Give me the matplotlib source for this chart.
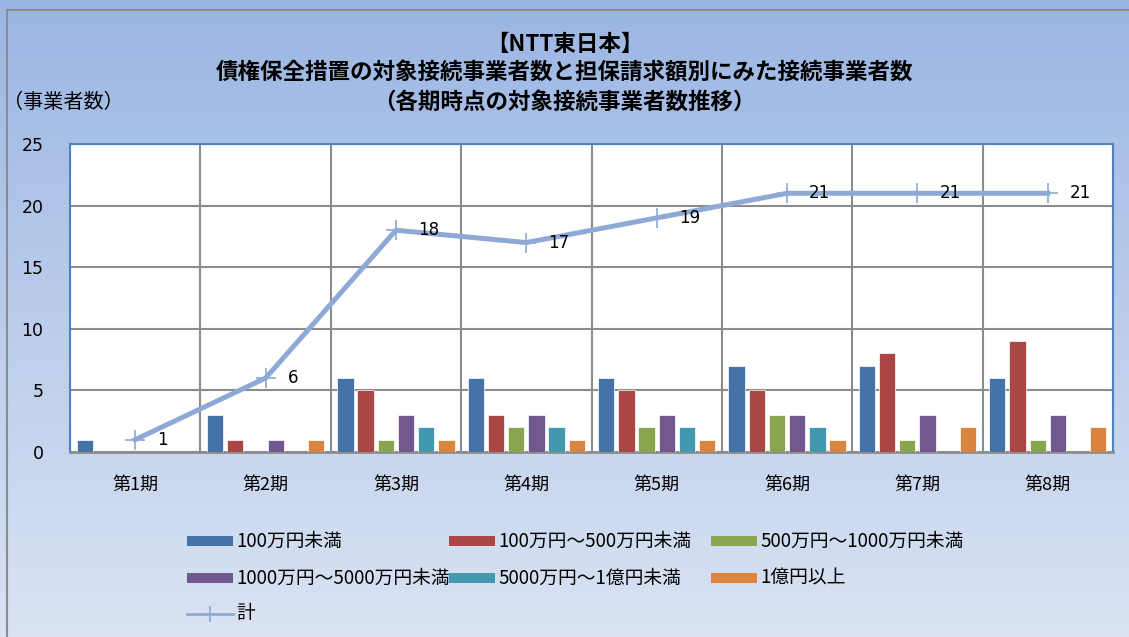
import numpy as np
import matplotlib.pyplot as plt
from matplotlib.patches import Rectangle
from matplotlib.lines import Line2D

plt.rcParams['font.family'] = ['Noto Sans CJK JP', 'DejaVu Sans']

periods = ['第1期', '第2期', '第3期', '第4期', '第5期', '第6期', '第7期', '第8期']
series_names = ['100万円未満', '100万円～500万円未満', '500万円～1000万円未満',
                '1000万円～5000万円未満', '5000万円～1億円未満', '1億円以上']
under_100 = [1, 3, 6, 6, 6, 7, 7, 6]
from_100_500 = [0, 1, 5, 3, 5, 5, 8, 9]
from_500_1000 = [0, 0, 1, 2, 2, 3, 1, 1]
from_1000_5000 = [0, 1, 3, 3, 3, 3, 3, 3]
from_5000_1oku = [0, 0, 2, 2, 2, 2, 0, 0]
over_1oku = [0, 1, 1, 1, 1, 1, 2, 2]
total = [1, 6, 18, 17, 19, 21, 21, 21]
colors = ['#4572A7', '#AA4643', '#89A54E', '#71588F', '#4198AF', '#DB843D']
line_color = '#8EA9D5'

W, H = 1129, 637
fig = plt.figure(figsize=(W / 100, H / 100), dpi=100)

# gradient background + outer frame
bg = fig.add_axes([0, 0, 1, 1], zorder=-10)
grad = np.linspace(0, 1, 256).reshape(-1, 1)
top = np.array([0.608, 0.714, 0.890])
bot = np.array([0.855, 0.890, 0.953])
img = top + (bot - top) * grad[..., None]
bg.imshow(img, aspect='auto', extent=[0, 1, 0, 1], origin='upper')
bg.add_patch(Rectangle((7 / W, -0.01), 1.0, 1 - 10 / H + 0.01,
                       fill=False, ec='#8C8C8C', lw=1.5))
bg.set_xlim(0, 1)
bg.set_ylim(0, 1)
bg.axis('off')

ax = fig.add_axes([70 / W, 1 - 452 / H, (1113 - 70) / W, (452 - 144) / H])
ax.set_facecolor('white')

x = np.arange(len(periods))
series = [under_100, from_100_500, from_500_1000, from_1000_5000, from_5000_1oku, over_1oku]
n = len(series)
step = 0.155
w = 0.125
for i, (vals, c) in enumerate(zip(series, colors)):
    ax.bar(x + (i - (n - 1) / 2) * step, vals, width=w, color=c, ec='white', lw=0.5,
           zorder=3)

ax.plot(x, total, color=line_color, lw=3.6, marker='+', ms=14, mew=1.2, zorder=4)
for xi, v in zip(x, total):
    ax.annotate(str(v), (xi, v), xytext=(22, 0), textcoords='offset pixels',
                fontsize=12, va='center', ha='left', family='DejaVu Sans', zorder=5)

ax.set_xlim(-0.5, len(periods) - 0.5)
ax.set_ylim(0, 25)
ax.set_yticks([0, 5, 10, 15, 20, 25])
ax.set_xticks(x)
ax.set_xticklabels(periods, fontsize=13)
ax.set_xticks(np.arange(-0.5, len(periods)), minor=True)
ax.grid(True, which='minor', axis='x', color='#8C8C8C', lw=1.5, zorder=0)
ax.grid(True, which='major', axis='y', color='#8C8C8C', lw=1.5, zorder=0)
ax.tick_params(axis='both', which='both', length=0)
ax.tick_params(axis='x', pad=17)
ax.tick_params(axis='y', pad=19, labelsize=12.5)
for lbl in ax.get_yticklabels():
    lbl.set_family('DejaVu Sans')
for s in ['left', 'top', 'right']:
    ax.spines[s].set_color('#4F81BD')
    ax.spines[s].set_linewidth(1.5)
ax.spines['bottom'].set_color('#8C8C8C')
ax.spines['bottom'].set_linewidth(2)

fig.text(0.5, 1 - 44 / H, '【NTT東日本】', ha='center', va='center',
         fontsize=16.2, fontweight='bold')
fig.text(0.5, 1 - 73 / H, '債権保全措置の対象接続事業者数と担保請求額別にみた接続事業者数',
         ha='center', va='center', fontsize=16.2, fontweight='bold')
fig.text(0.5, 1 - 102 / H, '（各期時点の対象接続事業者数推移）', ha='center', va='center',
         fontsize=16.2, fontweight='bold')
fig.text(3 / W, 1 - 102 / H, '（事業者数）', ha='left', va='center', fontsize=14.5)

# legend, drawn by hand in figure pixel positions
col_x = [187, 449, 711]
row_y = [541, 578, 614]
for i, (name, c) in enumerate(zip(series_names, colors)):
    px, py = col_x[i % 3], row_y[i // 3]
    fig.patches.append(Rectangle((px / W, 1 - (py + 5) / H), 46 / W, 10 / H,
                                 fc=c, ec='none', transform=fig.transFigure))
    fig.text((px + 49) / W, 1 - py / H, name, ha='left', va='center', fontsize=13.5)
px, py = col_x[0], row_y[2]
fig.lines.append(Line2D([px / W, (px + 46) / W], [1 - py / H, 1 - py / H],
                        color=line_color, lw=2, transform=fig.transFigure))
fig.lines.append(Line2D([(px + 23) / W], [1 - py / H], color=line_color, marker='+',
                        ms=12, mew=1.2, ls='none', transform=fig.transFigure))
fig.text((px + 49) / W, 1 - py / H, '計', ha='left', va='center', fontsize=13.5)

fig.savefig('out.png', dpi=100)
